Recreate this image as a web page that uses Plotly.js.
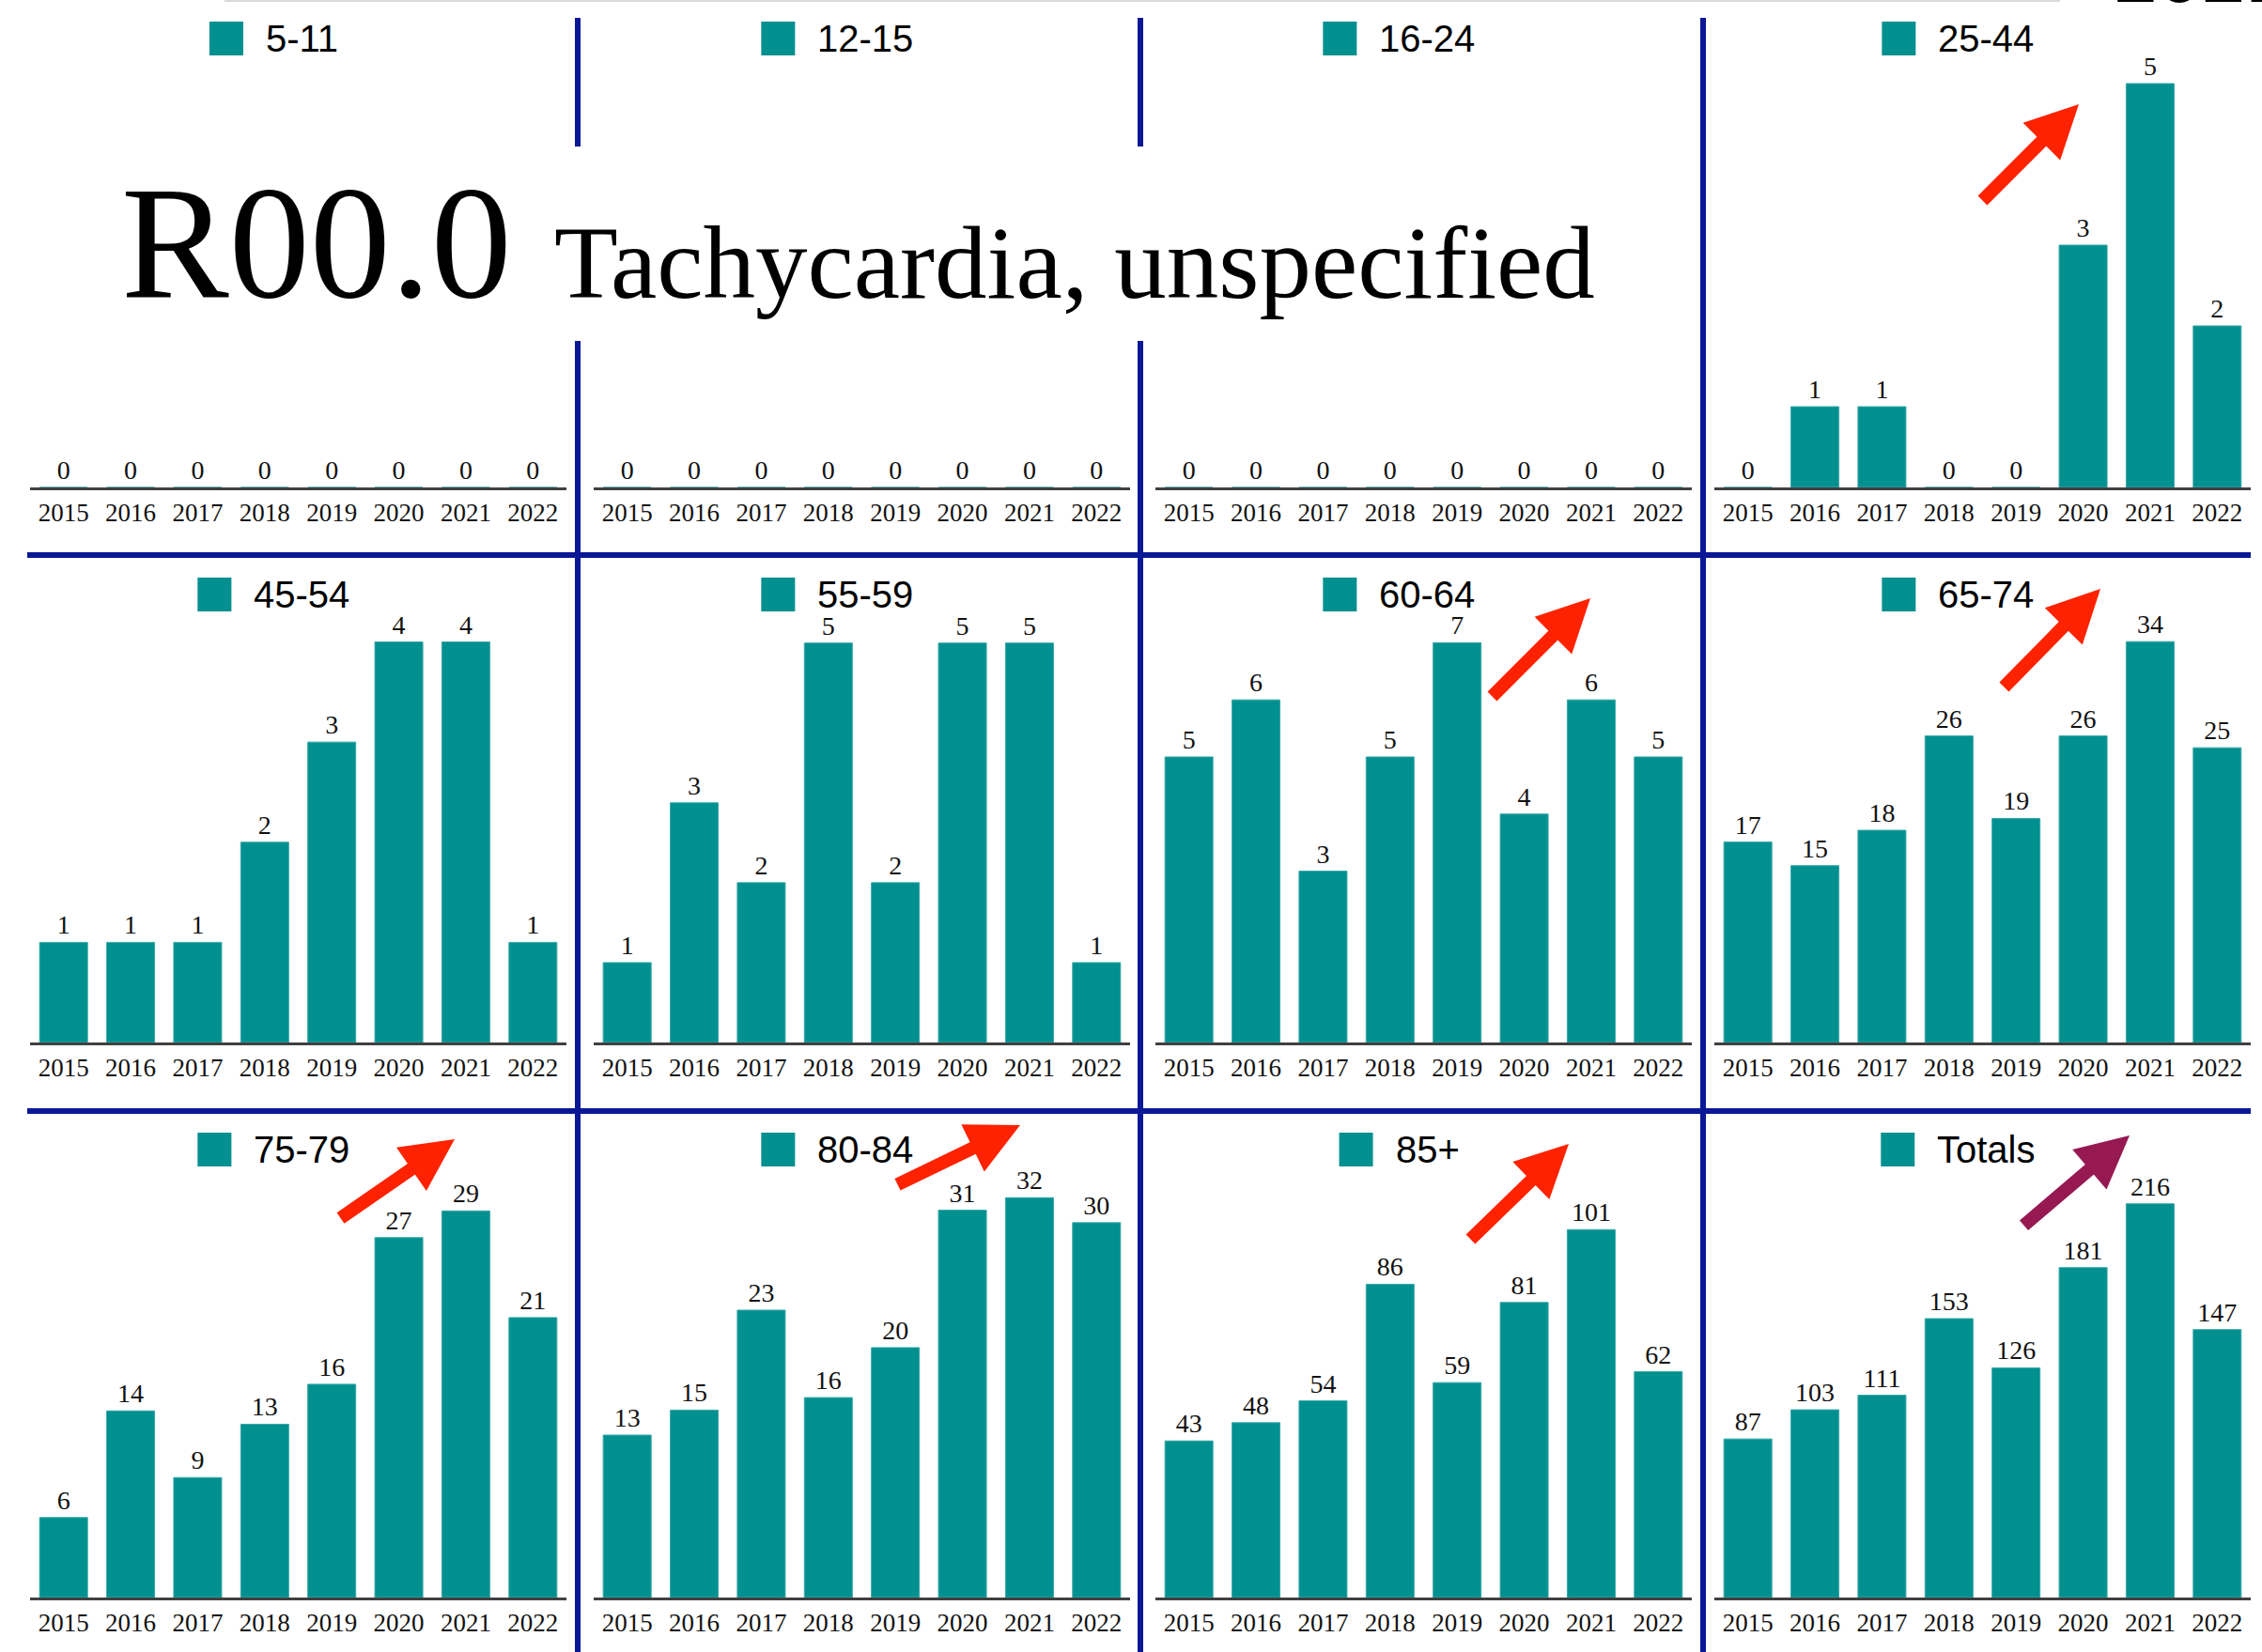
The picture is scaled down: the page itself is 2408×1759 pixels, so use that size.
<!DOCTYPE html>
<html><head><meta charset="utf-8">
<script src="https://cdn.plot.ly/plotly-3.0.1.min.js"></script>
<style>html,body{margin:0;padding:0;background:#fff;} #chart{width:2408px;height:1759px;}</style>
</head><body><div id="chart"></div>
<script>
// ---- data ----
const years = ['2015','2016','2017','2018','2019','2020','2021','2022'];
const groups = ['5-11','12-15','16-24','25-44','45-54','55-59','60-64','65-74','75-79','80-84','85+','Totals'];
const age5to11  = [0,0,0,0,0,0,0,0];
const age12to15 = [0,0,0,0,0,0,0,0];
const age16to24 = [0,0,0,0,0,0,0,0];
const age25to44 = [0,1,1,0,0,3,5,2];
const age45to54 = [1,1,1,2,3,4,4,1];
const age55to59 = [1,3,2,5,2,5,5,1];
const age60to64 = [5,6,3,5,7,4,6,5];
const age65to74 = [17,15,18,26,19,26,34,25];
const age75to79 = [6,14,9,13,16,27,29,21];
const age80to84 = [13,15,23,16,20,31,32,30];
const age85plus = [43,48,54,86,59,81,101,62];
const totals    = [87,103,111,153,126,181,216,147];
const titleCode = 'R00.0';
const titleText = 'Tachycardia, unspecified';
const cornerText = '2021';

const series = [age5to11, age12to15, age16to24, age25to44, age45to54, age55to59,
                age60to64, age65to74, age75to79, age80to84, age85plus, totals];

// ---- layout constants (pixels) ----
const W = 2408, H = 1759;
const colX = [32, 632, 1230, 1825];
const colW = 571;
const rowBase = [519, 1110, 1701];
const plotH = 467;
const axisMax = [1, 1, 1, 5.43, 4.38, 5.49, 7.68, 37.2, 32.9, 35.1, 120.4, 240.6];
const legendY = [41, 633, 1224];
const teal = '#00908f';
const navy = '#0a1896';
const serif = 'Liberation Serif, Times New Roman, serif';
const sans = 'Liberation Sans, Arial, sans-serif';

const px = x => x / W;
const py = y => 1 - y / H;

const traces = [];
const layout = {
  width: W, height: H,
  margin: {l: 0, r: 0, t: 0, b: 0, pad: 0},
  paper_bgcolor: '#fff', plot_bgcolor: 'rgba(0,0,0,0)',
  showlegend: false,
  bargap: 0.285,
  shapes: [], annotations: []
};

const canvas = document.createElement('canvas');
const ctx = canvas.getContext('2d');
ctx.font = "40px 'Liberation Sans'";

series.forEach((vals, i) => {
  const r = Math.floor(i / 4), c = i % 4;
  const sfx = i === 0 ? '' : String(i + 1);
  traces.push({
    type: 'bar', x: years, y: vals,
    xaxis: 'x' + sfx, yaxis: 'y' + sfx,
    marker: {color: teal, line: {color: '#3aa8a8', width: 1}},
    text: vals.map(String), textposition: 'outside', cliponaxis: false,
    constraintext: 'none',
    textfont: {family: serif, size: 28, color: '#111'},
    hoverinfo: 'skip'
  });
  layout['xaxis' + sfx] = {
    domain: [px(colX[c]), px(colX[c] + colW)],
    anchor: 'y' + sfx, type: 'category',
    showline: true, linecolor: '#404040', linewidth: 3,
    showgrid: false, zeroline: false, ticks: '',
    ticklabelstandoff: 1,
    tickfont: {family: serif, size: 27, color: '#111'},
    fixedrange: true
  };
  layout['yaxis' + sfx] = {
    domain: [py(rowBase[r]), py(rowBase[r] - plotH)],
    anchor: 'x' + sfx, range: [0, axisMax[i]],
    showline: false, showgrid: false, zeroline: false, showticklabels: false, ticks: '',
    fixedrange: true
  };
  // legend item
  const tw = ctx.measureText(groups[i]).width;
  const total = 36 + 23 + tw;
  const cx = colX[c] + 259;
  const left = cx - total / 2;
  const ly = legendY[r];
  layout.shapes.push({type: 'rect', xref: 'paper', yref: 'paper',
    x0: px(left), x1: px(left + 36), y0: py(ly + 18), y1: py(ly - 18),
    fillcolor: teal, line: {width: 0}});
  layout.annotations.push({xref: 'paper', yref: 'paper', x: px(left + 58), y: py(ly),
    xanchor: 'left', yanchor: 'middle', showarrow: false, text: groups[i],
    font: {family: sans, size: 40, color: '#000'}});
});

// dividers
function vline(x, y0, y1) {
  layout.shapes.push({type: 'line', xref: 'paper', yref: 'paper',
    x0: px(x), x1: px(x), y0: py(y0), y1: py(y1), line: {color: navy, width: 6}});
}
function hline(y, x0, x1) {
  layout.shapes.push({type: 'line', xref: 'paper', yref: 'paper',
    x0: px(x0), x1: px(x1), y0: py(y), y1: py(y), line: {color: navy, width: 6}});
}
vline(615, 19, 156); vline(615, 363, H);
vline(1214, 19, 156); vline(1214, 363, H);
vline(1813, 19, H);
hline(591, 29, 2396);
hline(1183, 29, 2396);
// faint top line
layout.shapes.push({type: 'line', xref: 'paper', yref: 'paper',
  x0: px(239), x1: px(2193), y0: py(1), y1: py(1), line: {color: '#d9d9d9', width: 2}});

// title
layout.annotations.push({xref: 'paper', yref: 'paper', x: px(127), y: py(318 + 37),
  xanchor: 'left', yanchor: 'bottom', showarrow: false, text: titleCode,
  font: {family: serif, size: 172, color: '#000'}});
layout.annotations.push({xref: 'paper', yref: 'paper', x: px(588), y: py(318 + 25),
  xanchor: 'left', yanchor: 'bottom', showarrow: false, text: titleText,
  font: {family: serif, size: 111, color: '#000'}});
// cut-off corner text (only its lower edge is visible, as in the source image)
layout.annotations.push({xref: 'paper', yref: 'paper', x: px(2248), y: py(3 + 19),
  xanchor: 'left', yanchor: 'bottom', showarrow: false, text: cornerText,
  font: {family: sans, size: 84, color: '#000'}});

// arrows: [tailX, tailY, headX, headY, color]
const arrows = [
  [2109, 215, 2213, 111, '#ff2200'],
  [1587, 743, 1693, 637, '#ff2200'],
  [2132, 733, 2236, 627, '#ff2200'],
  [361, 1298, 484, 1213, '#ff2200'],
  [954, 1262, 1086, 1198, '#ff2200'],
  [1564, 1321, 1670, 1218, '#ff2200'],
  [2153, 1306, 2267, 1209, '#971952']
];
arrows.forEach(a => {
  layout.annotations.push({xref: 'paper', yref: 'paper', x: px(a[2]), y: py(a[3]),
    ax: a[0] - a[2], ay: a[1] - a[3], text: '', showarrow: true,
    arrowhead: 2, arrowsize: 0.8, arrowwidth: 14, arrowcolor: a[4], standoff: 0, startstandoff: 0});
});

Plotly.newPlot('chart', traces, layout, {staticPlot: true, displayModeBar: false});
</script>
</body></html>
